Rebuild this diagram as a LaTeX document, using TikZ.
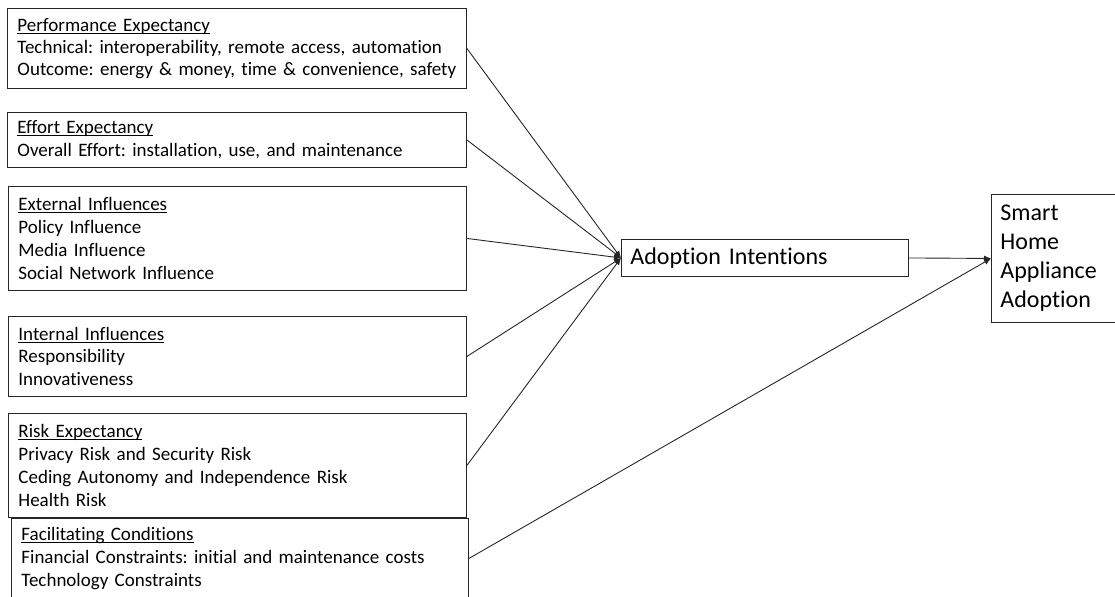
\documentclass[tikz,border=0pt]{standalone}
\usepackage{fontspec}
\setmainfont{Carlito}[Ligatures=NoCommon]
\usetikzlibrary{arrows.meta}
\frenchspacing

% underlined heading line inside a factor box
\newcommand\headline[1]{\setbox0\hbox{#1}\rlap{\rule[-2.4bp]{\wd0}{0.9bp}}\box0}

\tikzset{
  factor/.style={draw=black!85, line width=0.9bp, anchor=north west, align=left,
    inner xsep=10bp, inner ysep=4bp,
    font=\fontsize{19bp}{22.8bp}\selectfont},
  target/.style={draw=black!85, line width=0.9bp, anchor=north west, align=left,
    inner xsep=9bp, inner ysep=4bp,
    font=\fontsize{24bp}{29bp}\selectfont},
  link/.style={draw=black!85, line width=0.9bp, -{Latex[length=7bp,width=6bp]}},
}

\begin{document}
\begin{tikzpicture}[x=1bp, y=-1bp]
\useasboundingbox (0,0) rectangle (1115,597);
\clip (0,0) rectangle (1115,597);

% factor boxes on the left
\node[factor, minimum width=459bp, minimum height=80bp, text width=439bp,
      font=\fontsize{19bp}{22bp}\selectfont] (pe) at (7,8)
  {\headline{Performance Expectancy}\\
   \mbox{Technical: interoperability, remote access, automation}\\
   \mbox{Outcome: energy \& money, time \& convenience, safety}};
\node[factor, minimum width=459bp, minimum height=55bp, text width=439bp] (ee) at (7,112)
  {\headline{Effort Expectancy}\\
   Overall Effort: installation, use, and maintenance};
\node[factor, minimum width=458bp, minimum height=104bp, text width=438bp] (ext) at (8,186)
  {\headline{External Influences}\\
   Policy Influence\\
   Media Influence\\
   Social Network Influence};
\node[factor, minimum width=458bp, minimum height=80bp, text width=438bp] (int) at (8,316)
  {\headline{Internal Influences}\\
   Responsibility\\
   Innovativeness};
\node[factor, minimum width=458bp, minimum height=104bp, text width=438bp] (risk) at (8,413)
  {\headline{Risk Expectancy}\\
   Privacy Risk and Security Risk\\
   Ceding Autonomy and Independence Risk\\
   Health Risk};
\node[factor, minimum width=457bp, minimum height=80bp, text width=437bp] (fc) at (11,518)
  {\headline{Facilitating Conditions}\\
   \mbox{Financial Constraints: initial and maintenance costs}\\
   Technology Constraints};

% outcome boxes
\node[target, minimum width=287bp, minimum height=37bp, text width=269bp, inner ysep=2bp] (ai) at (621,239)
  {Adoption Intentions};
\node[target, minimum width=126bp, minimum height=128bp, text width=108bp] (sh) at (991,194)
  {Smart\\Home\\Appliance\\Adoption};

% paths
\foreach \src in {pe,ee,ext,int,risk}
  \draw[link] (\src.east) -- (ai.west);
\draw[link] (ai.east) -- (sh.west);
\draw[link] (fc.east) -- (sh.west);
\end{tikzpicture}
\end{document}
